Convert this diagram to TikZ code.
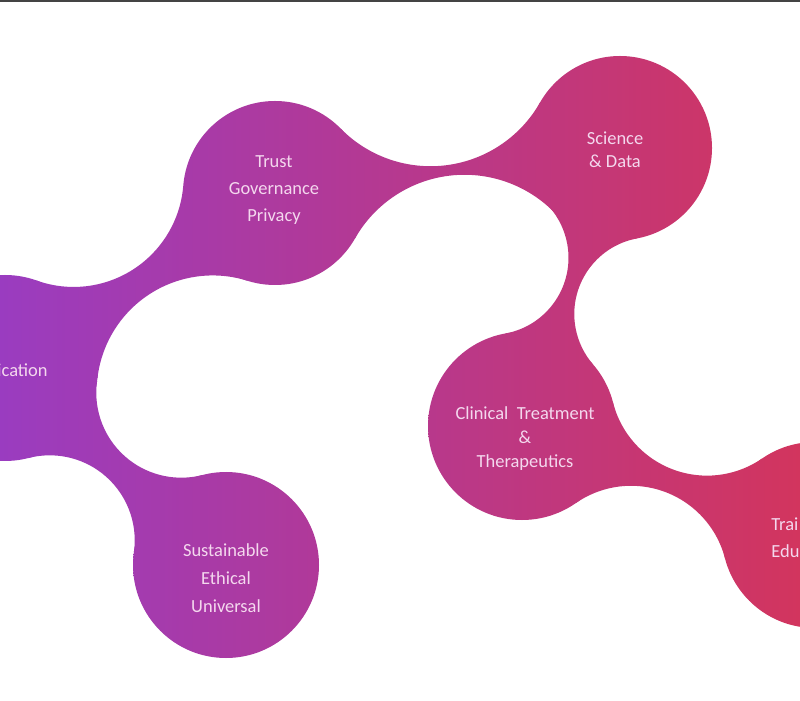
\documentclass[tikz,border=0pt]{standalone}
\usepackage{fontspec}
\setmainfont{Carlito}
\usetikzlibrary{positioning}

\definecolor{blobleft}{HTML}{9A3CC0}
\definecolor{blobmid}{HTML}{B3359A}
\definecolor{blobright}{HTML}{D2355E}
\definecolor{blobtext}{HTML}{F4D8EE}
\definecolor{topline}{HTML}{444444}

\tikzset{
  bloblabel/.style={text=blobtext, font=\fontsize{10.5}{15.4}\selectfont, align=center, inner sep=0pt},
}

% one gradient for the whole picture, drawn inside the current clip
\newcommand{\blobshade}{\shade[left color=blobleft, middle color=blobmid, right color=blobright] (0,0) rectangle (8,7);}

% round disc at #1,#2 with radius #3
\newcommand{\blob}[3]{%
  \begin{scope}
    \clip (#1,#2) circle[radius=#3];
    \blobshade
  \end{scope}}

% neck between disc A (#1,#2,#3) and disc B (#4,#5,#6), hollowed by circles of radius #7 and #8
\newcommand{\neck}[8]{%
  \pgfmathsetmacro\nkd{veclen(#4-#1,#5-#2)}%
  \pgfmathsetmacro\nkang{atan2(#5-#2,#4-#1)}%
  \pgfmathsetmacro\nkaa{acos(((#3+#7)^2+\nkd^2-(#6+#7)^2)/(2*(#3+#7)*\nkd))}%
  \pgfmathsetmacro\nkba{acos(((#6+#7)^2+\nkd^2-(#3+#7)^2)/(2*(#6+#7)*\nkd))}%
  \pgfmathsetmacro\nkab{acos(((#3+#8)^2+\nkd^2-(#6+#8)^2)/(2*(#3+#8)*\nkd))}%
  \pgfmathsetmacro\nkbb{acos(((#6+#8)^2+\nkd^2-(#3+#8)^2)/(2*(#6+#8)*\nkd))}%
  \begin{scope}
    \clip ([shift={(\nkang+\nkaa:#3)}]#1,#2)
      arc[start angle=\nkang-180+\nkaa, end angle=\nkang-\nkba, radius=#7]
      -- ([shift={(\nkang+180+\nkbb:#6)}]#4,#5)
      arc[start angle=\nkang+\nkbb, end angle=\nkang+180-\nkab, radius=#8]
      -- cycle;
    \blobshade
  \end{scope}}

\begin{document}
\begin{tikzpicture}[x=2cm, y=2cm]
  \useasboundingbox (0,0) rectangle (8,7);
  \fill[white] (0,0) rectangle (8,7);
  \clip (0,0) rectangle (8,7);

  % discs
  \blob{0.05}{3.32}{0.93}
  \blob{2.75}{5.07}{0.92}
  \blob{6.20}{5.52}{0.92}
  \blob{5.22}{2.74}{0.94}
  \blob{8.15}{1.65}{0.93}
  \blob{2.26}{1.35}{0.93}

  % necks
  \neck{0.05}{3.32}{0.93}{2.75}{5.07}{0.92}{1.10}{1.16}
  \neck{2.75}{5.07}{0.92}{6.20}{5.52}{0.92}{1.26}{1.26}
  \neck{6.20}{5.52}{0.92}{5.22}{2.74}{0.94}{0.77}{0.77}
  \neck{5.22}{2.74}{0.94}{8.15}{1.65}{0.93}{0.97}{0.97}
  \neck{0.05}{3.32}{0.93}{2.26}{1.35}{0.93}{0.85}{0.85}

  % labels
  \node[bloblabel, anchor=east] (comm) at (0.48,3.30) {ication};
  \node[bloblabel] (trust) at (2.74,5.10) {Trust\\Governance\\Privacy};
  \node[bloblabel, font=\fontsize{10.5}{13.1}\selectfont] (science) at (6.15,5.50) {Science\\\& Data};
  \node[bloblabel, font=\fontsize{10.5}{13.7}\selectfont] (clinical) at (5.25,2.61) {Clinical\ \ Treatment\\\&\\Therapeutics};
  \node[bloblabel, anchor=west, align=left] (training) at (7.71,1.62) {Trai\\Edu};
  \node[bloblabel, font=\fontsize{10.5}{15.9}\selectfont] (sustain) at (2.26,1.22) {Sustainable\\Ethical\\Universal};

  % top rule
  \fill[topline] (0,6.975) rectangle (8,7);
\end{tikzpicture}
\end{document}
